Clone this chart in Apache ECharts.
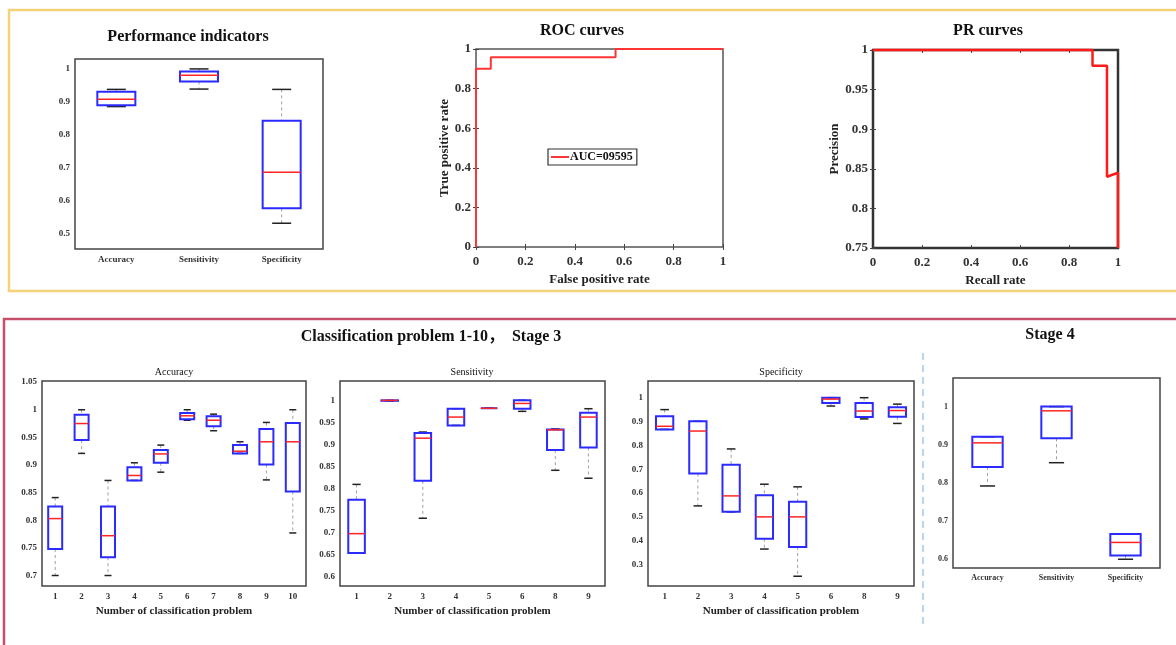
<!DOCTYPE html>
<html>
<head>
<meta charset="utf-8">
<script src="https://cdn.jsdelivr.net/npm/echarts@6.0.0/dist/echarts.min.js"></script>
<style>
  html, body { margin: 0; padding: 0; background: #fff; }
  #main { width: 1176px; height: 645px; }
</style>
</head>
<body>
<div id="main"></div>
<script>
// ---- data ----
// boxes: [low whisker, Q1, median, Q3, high whisker]
const perfCats = ['Accuracy', 'Sensitivity', 'Specificity']
const perfBoxes = [
  [0.886, 0.890, 0.908, 0.931, 0.938],
  [0.939, 0.962, 0.981, 0.992, 1.000],
  [0.533, 0.578, 0.687, 0.843, 0.938]
]
const perfTicks = [0.5, 0.6, 0.7, 0.8, 0.9, 1]

const rocFpr = [0, 0, 0.06, 0.06, 0.565, 0.565, 1]
const rocTpr = [0, 0.9, 0.9, 0.958, 0.958, 1, 1]
const rocName = 'AUC=09595'

const prRecall = [0, 0.896, 0.896, 0.955, 0.955, 1, 1]
const prPrecision = [1, 1, 0.98, 0.98, 0.84, 0.845, 0.75]

const accCats = ['1', '2', '3', '4', '5', '6', '7', '8', '9', '10']
const accBoxes = [
  [0.700, 0.748, 0.803, 0.825, 0.841],
  [0.921, 0.945, 0.975, 0.991, 1.000],
  [0.700, 0.733, 0.772, 0.825, 0.872],
  [0.872, 0.872, 0.881, 0.896, 0.904],
  [0.887, 0.904, 0.920, 0.927, 0.936],
  [0.981, 0.983, 0.989, 0.994, 1.000],
  [0.962, 0.970, 0.981, 0.988, 0.992],
  [0.921, 0.921, 0.925, 0.936, 0.942],
  [0.873, 0.901, 0.942, 0.965, 0.977],
  [0.777, 0.852, 0.942, 0.976, 1.000]
]
const accTicks = [0.7, 0.75, 0.8, 0.85, 0.9, 0.95, 1, 1.05]

const sensCats = ['1', '2', '3', '4', '5', '6', '8', '9']
const sensBoxes = [
  [0.653, 0.653, 0.697, 0.774, 0.809],
  [0.999, 0.999, 1.000, 1.000, 1.000],
  [0.732, 0.817, 0.914, 0.926, 0.928],
  [0.943, 0.943, 0.962, 0.981, 0.981],
  [0.982, 0.982, 0.982, 0.982, 0.982],
  [0.975, 0.981, 0.993, 1.000, 1.000],
  [0.841, 0.887, 0.933, 0.934, 0.935],
  [0.823, 0.893, 0.962, 0.972, 0.981]
]
const sensTicks = [0.6, 0.65, 0.7, 0.75, 0.8, 0.85, 0.9, 0.95, 1]

const specCats = ['1', '2', '3', '4', '5', '6', '8', '9']
const specBoxes = [
  [0.867, 0.867, 0.880, 0.922, 0.950],
  [0.546, 0.682, 0.860, 0.901, 0.901],
  [0.521, 0.521, 0.588, 0.719, 0.785],
  [0.365, 0.408, 0.500, 0.591, 0.637],
  [0.251, 0.374, 0.500, 0.563, 0.626],
  [0.965, 0.978, 0.994, 1.000, 1.000],
  [0.911, 0.919, 0.944, 0.978, 1.000],
  [0.892, 0.920, 0.946, 0.960, 0.973]
]
const specTicks = [0.3, 0.4, 0.5, 0.6, 0.7, 0.8, 0.9, 1]

const st4Cats = ['Accuracy', 'Sensitivity', 'Specificity']
const st4Boxes = [
  [0.792, 0.842, 0.905, 0.921, 0.921],
  [0.853, 0.917, 0.989, 1.000, 1.000],
  [0.600, 0.610, 0.644, 0.666, 0.666]
]
const st4Ticks = [0.6, 0.7, 0.8, 0.9, 1]

// ---- helpers ----
const serif = '"Liberation Serif", "Noto Sans CJK SC", serif'
const grids = []
const xAxes = []
const yAxes = []
const series = []

function addFrame (box, xCfg, yCfg, frame) {
  const gi = grids.length
  grids.push({
    left: box[0], top: box[1], width: box[2], height: box[3],
    show: true, backgroundColor: '#fff',
    borderColor: frame.color, borderWidth: frame.width
  })
  const xi = xAxes.length
  const yi = yAxes.length
  xAxes.push(Object.assign({ gridIndex: gi, position: 'bottom' }, xCfg))
  xAxes.push(Object.assign({ gridIndex: gi, position: 'top' }, xCfg, { name: '', axisLabel: { show: false } }))
  yAxes.push(Object.assign({ gridIndex: gi, position: 'left' }, yCfg))
  yAxes.push(Object.assign({ gridIndex: gi, position: 'right' }, yCfg, { name: '', axisLabel: { show: false } }))
  return { xi, yi }
}

function catAxis (cats, fontSize) {
  return {
    type: 'category',
    data: cats,
    axisLine: { show: false },
    axisTick: { inside: true, alignWithLabel: true, length: 3, lineStyle: { color: '#444' } },
    axisLabel: { interval: 0, fontFamily: serif, fontWeight: 'bold', fontSize: fontSize, color: '#333', margin: 6 },
    splitLine: { show: false }
  }
}

function valAxis (min, max, ticks, fontSize) {
  return {
    type: 'value',
    min: min,
    max: max,
    axisLine: { show: false },
    axisTick: { inside: true, length: 3, customValues: ticks, lineStyle: { color: '#444' } },
    axisLabel: { customValues: ticks, fontFamily: serif, fontWeight: 'bold', fontSize: fontSize, color: '#333', margin: 5 },
    splitLine: { show: false }
  }
}

function boxRenderer (ratio) {
  return function (params, api) {
    const i = api.value(0)
    const low = api.coord([i, api.value(1)])
    const q1 = api.coord([i, api.value(2)])
    const med = api.coord([i, api.value(3)])
    const q3 = api.coord([i, api.value(4)])
    const high = api.coord([i, api.value(5)])
    const bw = api.size([1, 0])[0] * ratio
    const cx = med[0]
    const whisker = { stroke: '#a0a0a0', lineWidth: 1, lineDash: [3, 3] }
    const cap = { stroke: '#222', lineWidth: 1.5 }
    return {
      type: 'group',
      children: [
        { type: 'line', shape: { x1: cx, y1: high[1], x2: cx, y2: q3[1] }, style: whisker },
        { type: 'line', shape: { x1: cx, y1: q1[1], x2: cx, y2: low[1] }, style: whisker },
        { type: 'line', shape: { x1: cx - bw / 4, y1: high[1], x2: cx + bw / 4, y2: high[1] }, style: cap },
        { type: 'line', shape: { x1: cx - bw / 4, y1: low[1], x2: cx + bw / 4, y2: low[1] }, style: cap },
        { type: 'rect', shape: { x: cx - bw / 2, y: q3[1], width: bw, height: q1[1] - q3[1] },
          style: { fill: 'none', stroke: '#2b2bff', lineWidth: 2 } },
        { type: 'line', shape: { x1: cx - bw / 2, y1: med[1], x2: cx + bw / 2, y2: med[1] },
          style: { stroke: '#ff2424', lineWidth: 1.5 } }
      ]
    }
  }
}

function boxPanel (box, cats, boxes, yMin, yMax, ticks, ratio, opts) {
  const xCfg = catAxis(cats, opts.xFont)
  if (opts.xName) {
    Object.assign(xCfg, {
      name: opts.xName, nameLocation: 'middle', nameGap: 20,
      nameTextStyle: { fontFamily: serif, fontWeight: 'bold', fontSize: 11, color: '#222' }
    })
  }
  const ax = addFrame(box, xCfg, valAxis(yMin, yMax, ticks, opts.yFont), { color: '#444', width: 1.5 })
  series.push({
    type: 'custom',
    xAxisIndex: ax.xi,
    yAxisIndex: ax.yi,
    clip: false,
    renderItem: boxRenderer(ratio),
    encode: { x: 0, y: [1, 2, 3, 4, 5] },
    data: boxes.map((b, i) => [i].concat(b))
  })
}

// ---- panels ----
boxPanel([75, 59, 248, 190], perfCats, perfBoxes, 0.455, 1.03, perfTicks, 0.46, { xFont: 9, yFont: 9 })

const roc = addFrame([476, 49, 247, 198],
  Object.assign(valAxis(0, 1, [0, 0.2, 0.4, 0.6, 0.8, 1], 13), {
    name: 'False positive rate', nameLocation: 'middle', nameGap: 26,
    nameTextStyle: { fontFamily: serif, fontWeight: 'bold', fontSize: 13, color: '#222' }
  }),
  Object.assign(valAxis(0, 1, [0, 0.2, 0.4, 0.6, 0.8, 1], 13), {
    name: 'True positive rate', nameLocation: 'middle', nameGap: 24,
    nameTextStyle: { fontFamily: serif, fontWeight: 'bold', fontSize: 13, color: '#222' }
  }),
  { color: '#555', width: 1.5 })
xAxes[roc.xi].axisLabel.margin = 8
series.push({
  name: rocName,
  type: 'line',
  xAxisIndex: roc.xi,
  yAxisIndex: roc.yi,
  symbol: 'none',
  clip: false,
  lineStyle: { color: '#ff3535', width: 2 },
  itemStyle: { color: '#ff3535' },
  data: rocFpr.map((x, i) => [x, rocTpr[i]])
})

const pr = addFrame([873, 50, 245, 198],
  Object.assign(valAxis(0, 1, [0, 0.2, 0.4, 0.6, 0.8, 1], 13), {
    name: 'Recall rate', nameLocation: 'middle', nameGap: 26,
    nameTextStyle: { fontFamily: serif, fontWeight: 'bold', fontSize: 13, color: '#222' }
  }),
  Object.assign(valAxis(0.75, 1, [0.75, 0.8, 0.85, 0.9, 0.95, 1], 13), {
    name: 'Precision', nameLocation: 'middle', nameGap: 30,
    nameTextStyle: { fontFamily: serif, fontWeight: 'bold', fontSize: 13, color: '#222' }
  }),
  { color: '#333', width: 2.5 })
xAxes[pr.xi].axisLabel.margin = 8
series.push({
  name: 'PR',
  type: 'line',
  xAxisIndex: pr.xi,
  yAxisIndex: pr.yi,
  symbol: 'none',
  clip: false,
  lineStyle: { color: '#ff1a1a', width: 2.5 },
  data: prRecall.map((x, i) => [x, prPrecision[i]])
})

const clsName = 'Number of classification problem'
boxPanel([42, 381, 264, 205], accCats, accBoxes, 0.681, 1.052, accTicks, 0.53, { xFont: 9, yFont: 9, xName: clsName })
boxPanel([340, 381, 265, 205], sensCats, sensBoxes, 0.578, 1.044, sensTicks, 0.5, { xFont: 9, yFont: 9, xName: clsName })
boxPanel([648, 381, 266, 205], specCats, specBoxes, 0.21, 1.07, specTicks, 0.52, { xFont: 9, yFont: 9, xName: clsName })
boxPanel([953, 378, 207, 190], st4Cats, st4Boxes, 0.577, 1.075, st4Ticks, 0.44, { xFont: 8, yFont: 8 })

function label (text, x, y, size, weight) {
  return {
    type: 'text', x: x, y: y, z: 10,
    style: { text: text, fontFamily: serif, fontSize: size, fontWeight: weight, fill: '#111', align: 'center', verticalAlign: 'middle' }
  }
}

const chart = echarts.init(document.getElementById('main'))
chart.setOption({
  animation: false,
  backgroundColor: '#fff',
  grid: grids,
  xAxis: xAxes,
  yAxis: yAxes,
  legend: {
    data: [rocName],
    left: 548,
    top: 149,
    orient: 'horizontal',
    icon: 'rect',
    itemWidth: 18,
    itemHeight: 2,
    itemGap: 2,
    padding: [2, 4, 2, 3],
    backgroundColor: '#fff',
    borderColor: '#333',
    borderWidth: 1.2,
    textStyle: { fontFamily: serif, fontWeight: 'bold', fontSize: 12, color: '#111', padding: [0, 0, 0, -4] }
  },
  graphic: [
    { type: 'rect', shape: { x: 9, y: 10, width: 1190, height: 281 }, style: { fill: 'none', stroke: '#f5d27a', lineWidth: 2.5 } },
    { type: 'rect', shape: { x: 4, y: 319, width: 1190, height: 345 }, style: { fill: 'none', stroke: '#c64f6b', lineWidth: 2.5 } },
    { type: 'line', shape: { x1: 923, y1: 353, x2: 923, y2: 628 }, style: { stroke: '#bcd5ee', lineWidth: 2, lineDash: [7, 5] } },
    label('Performance indicators', 188, 37, 16, 'bold'),
    label('ROC curves', 582, 31, 16, 'bold'),
    label('PR curves', 988, 31, 16, 'bold'),
    label('Classification problem 1-10，  Stage 3', 431, 337, 16, 'bold'),
    label('Stage 4', 1050, 335, 16, 'bold'),
    label('Accuracy', 174, 372, 10, 'normal'),
    label('Sensitivity', 472, 372, 10, 'normal'),
    label('Specificity', 781, 372, 10, 'normal')
  ],
  series: series
})
</script>
</body>
</html>
